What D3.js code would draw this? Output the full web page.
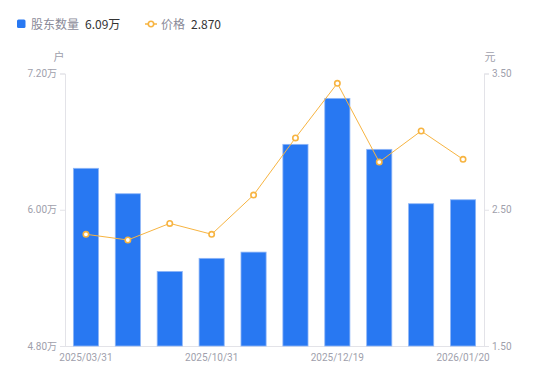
<!DOCTYPE html>
<html><head><meta charset="utf-8">
<script src="https://cdn.jsdelivr.net/npm/d3@7/dist/d3.min.js"></script>
<style>body{margin:0;background:#fff;font-family:"Noto Sans CJK SC","Noto Sans",sans-serif;}</style>
</head><body><svg id="c" width="550" height="381"></svg>
<script>
const dates = ["2025/03/31","2025/06/30","2025/09/30","2025/10/31","2025/11/10","2025/11/28","2025/12/19","2025/12/31","2026/01/10","2026/01/20"];
const holders = [6.365,6.141,5.457,5.572,5.627,6.576,6.981,6.532,6.053,6.088];
const prices = [2.320,2.278,2.400,2.320,2.608,3.027,3.428,2.850,3.078,2.870];
const leftTicks = [4.80,6.00,7.20];
const rightTicks = [1.50,2.50,3.50];
const shownDates = ["2025/03/31","2025/10/31","2025/12/19","2026/01/20"];

const svg = d3.select("#c");
const L=65,R=484,T=73.5,B=346;
const x = d3.scaleBand().domain(dates).range([L,R]).paddingInner(0.4).paddingOuter(0.2);
const xc = d3.scaleBand().domain(dates).range([L,R]);
const yL = d3.scaleLinear().domain([4.8,7.2]).range([B,T]);
const yR = d3.scaleLinear().domain([1.5,3.5]).range([B,T]);
const axisCol="#e3e3e8", textCol="#a09fac";

// axes
const gl = svg.append("g").attr("transform",`translate(${L},0)`)
  .call(d3.axisLeft(yL).tickValues(leftTicks).tickSize(5).tickPadding(3).tickFormat(d=>d3.format(".2f")(d)+"万"));
const gr = svg.append("g").attr("transform",`translate(${R},0)`)
  .call(d3.axisRight(yR).tickValues(rightTicks).tickSize(5).tickPadding(3).tickFormat(d3.format(".2f")));
const gb = svg.append("g").attr("transform",`translate(0,${B})`)
  .call(d3.axisBottom(xc).tickValues(shownDates).tickSize(0).tickPadding(8));
[gl,gr,gb].forEach(g=>{
  g.selectAll("path.domain").attr("stroke",axisCol);
  g.selectAll("line").attr("stroke",axisCol);
  g.selectAll("text").attr("fill",textCol).style("font-size","10px").style("font-family","Roboto,'Noto Sans CJK SC',sans-serif");
});
gb.select("path.domain").attr("d",`M${L},0.5H${R}`);

// bars
svg.append("g").selectAll("rect").data(holders).join("rect")
  .attr("x",(d,i)=>x(dates[i])).attr("width",x.bandwidth())
  .attr("y",d=>yL(d)).attr("height",d=>B-yL(d))
  .attr("fill","#2878F2").attr("stroke","#8fb6f7").attr("stroke-width",0.8);

// line
const line = d3.line().x((d,i)=>xc(dates[i])+xc.bandwidth()/2).y(d=>yR(d));
svg.append("path").datum(prices).attr("d",line).attr("fill","none").attr("stroke","#F7B441").attr("stroke-width",1);
svg.append("g").selectAll("circle").data(prices).join("circle")
  .attr("cx",(d,i)=>xc(dates[i])+xc.bandwidth()/2).attr("cy",d=>yR(d)).attr("r",2.7)
  .attr("fill","#fff").attr("stroke","#F7B441").attr("stroke-width",1.6);

// unit labels
svg.append("text").attr("x",59).attr("y",61).attr("text-anchor","middle").attr("fill",textCol).style("font-size","11px").text("户");
svg.append("text").attr("x",490).attr("y",61).attr("text-anchor","middle").attr("fill",textCol).style("font-size","11px").text("元");

// legend
const lg = svg.append("g").style("font-size","12px");
lg.append("rect").attr("x",17).attr("y",19.5).attr("width",8.5).attr("height",8.5).attr("rx",1.5).attr("fill","#2878F2");
lg.append("text").attr("x",31).attr("y",28.5).attr("fill","#8a8a98").text("股东数量");
lg.append("text").attr("x",85).attr("y",28.5).attr("fill","#333").text("6.09万");
lg.append("line").attr("x1",145).attr("x2",157).attr("y1",24).attr("y2",24).attr("stroke","#F7B441").attr("stroke-width",1.5);
lg.append("circle").attr("cx",151).attr("cy",24).attr("r",2.7).attr("fill","#fff").attr("stroke","#F7B441").attr("stroke-width",1.6);
lg.append("text").attr("x",161).attr("y",28.5).attr("fill","#8a8a98").text("价格");
lg.append("text").attr("x",191).attr("y",28.5).attr("fill","#333").text("2.870");
</script></body></html>
